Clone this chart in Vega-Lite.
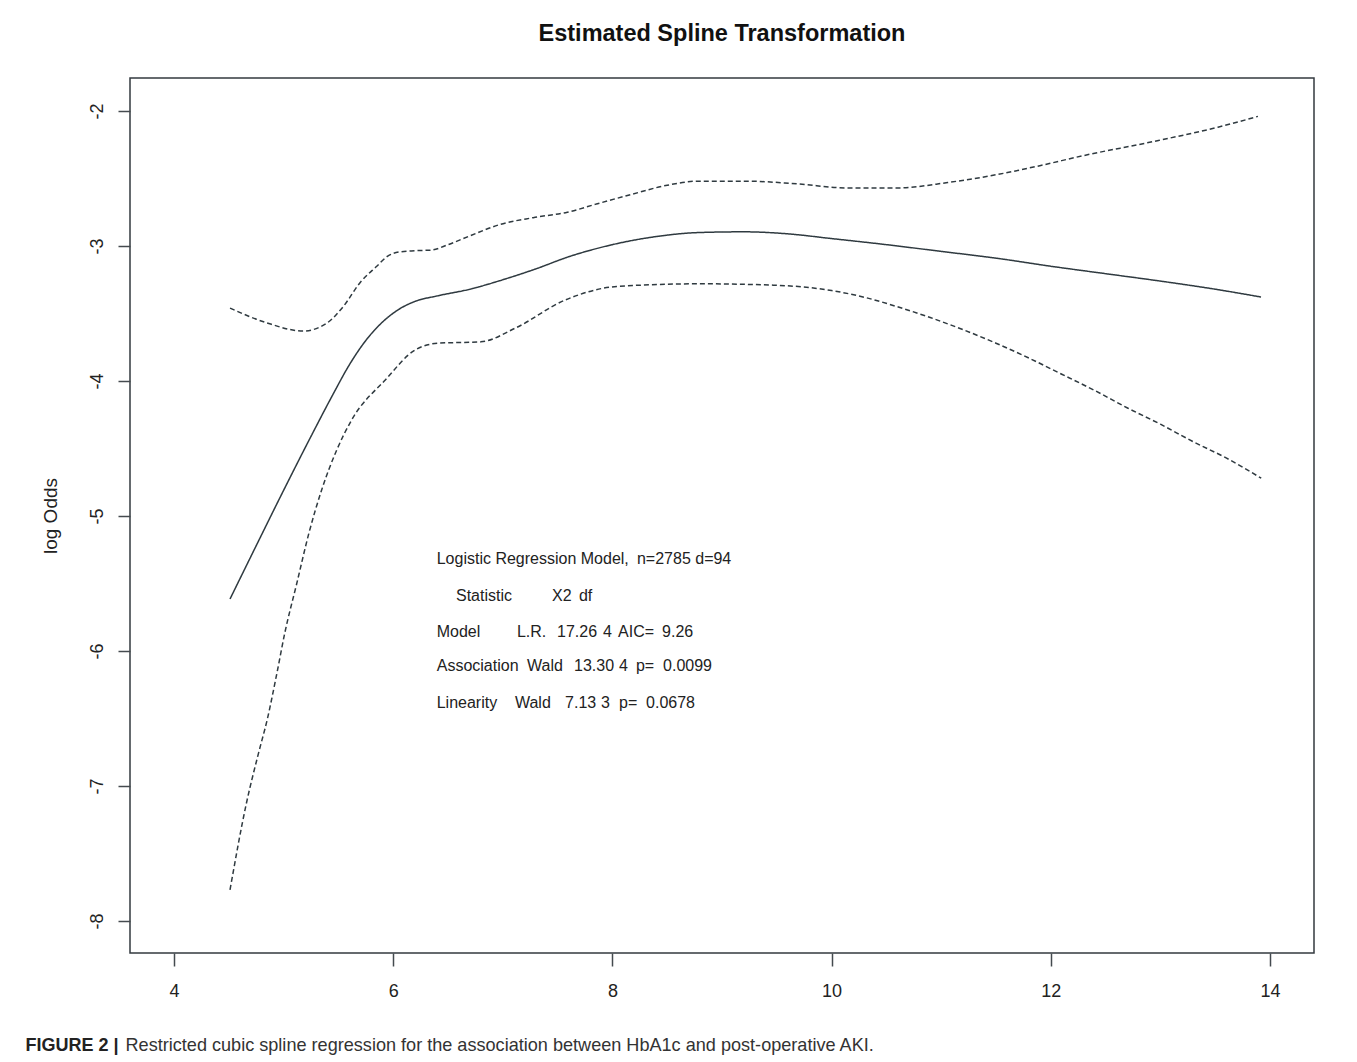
{
  "$schema": "https://vega.github.io/schema/vega-lite/v6.json",
  "width": 1184,
  "height": 875,
  "autosize": {"type": "none"},
  "padding": {"left": 130, "top": 78, "right": 43, "bottom": 109},
  "background": "white",
  "title": {
    "text": "Estimated Spline Transformation",
    "font": "Liberation Sans",
    "fontSize": 23.5,
    "fontWeight": "bold",
    "color": "#111111",
    "anchor": "middle",
    "frame": "group",
    "baseline": "alphabetic",
    "offset": 14
  },
  "config": {
    "font": "Liberation Sans",
    "view": {"stroke": "#333a3f", "strokeWidth": 1.5},
    "axis": {"grid": false, "domain": false}
  },
  "datasets": {
    "curves": [
      {"series": "estimate", "x": 4.511, "y": -5.615},
      {"series": "estimate", "x": 4.75, "y": -5.22},
      {"series": "estimate", "x": 5.0, "y": -4.81},
      {"series": "estimate", "x": 5.25, "y": -4.41},
      {"series": "estimate", "x": 5.45, "y": -4.1},
      {"series": "estimate", "x": 5.6, "y": -3.88},
      {"series": "estimate", "x": 5.75, "y": -3.7},
      {"series": "estimate", "x": 5.9, "y": -3.565},
      {"series": "estimate", "x": 6.05, "y": -3.47},
      {"series": "estimate", "x": 6.2, "y": -3.41},
      {"series": "estimate", "x": 6.4, "y": -3.37},
      {"series": "estimate", "x": 6.7, "y": -3.32},
      {"series": "estimate", "x": 7.0, "y": -3.25},
      {"series": "estimate", "x": 7.3, "y": -3.17},
      {"series": "estimate", "x": 7.6, "y": -3.08},
      {"series": "estimate", "x": 8.0, "y": -2.99},
      {"series": "estimate", "x": 8.4, "y": -2.93},
      {"series": "estimate", "x": 8.8, "y": -2.9},
      {"series": "estimate", "x": 9.2, "y": -2.895},
      {"series": "estimate", "x": 9.6, "y": -2.91},
      {"series": "estimate", "x": 10.0, "y": -2.945},
      {"series": "estimate", "x": 10.5, "y": -2.99},
      {"series": "estimate", "x": 11.0, "y": -3.04},
      {"series": "estimate", "x": 11.5, "y": -3.09},
      {"series": "estimate", "x": 12.0, "y": -3.15},
      {"series": "estimate", "x": 12.5, "y": -3.205},
      {"series": "estimate", "x": 13.0, "y": -3.26},
      {"series": "estimate", "x": 13.5, "y": -3.32},
      {"series": "estimate", "x": 13.918, "y": -3.378},
      {"series": "upper", "x": 4.511, "y": -3.46},
      {"series": "upper", "x": 4.849, "y": -3.57},
      {"series": "upper", "x": 5.178, "y": -3.63},
      {"series": "upper", "x": 5.397, "y": -3.57},
      {"series": "upper", "x": 5.543, "y": -3.45},
      {"series": "upper", "x": 5.699, "y": -3.27},
      {"series": "upper", "x": 5.85, "y": -3.15},
      {"series": "upper", "x": 5.95, "y": -3.075},
      {"series": "upper", "x": 6.05, "y": -3.045},
      {"series": "upper", "x": 6.2, "y": -3.035},
      {"series": "upper", "x": 6.35, "y": -3.03},
      {"series": "upper", "x": 6.5, "y": -2.99},
      {"series": "upper", "x": 6.7, "y": -2.925},
      {"series": "upper", "x": 6.977, "y": -2.84},
      {"series": "upper", "x": 7.278, "y": -2.79},
      {"series": "upper", "x": 7.589, "y": -2.75},
      {"series": "upper", "x": 7.85, "y": -2.69},
      {"series": "upper", "x": 8.164, "y": -2.62},
      {"series": "upper", "x": 8.5, "y": -2.55},
      {"series": "upper", "x": 8.776, "y": -2.52},
      {"series": "upper", "x": 9.233, "y": -2.52},
      {"series": "upper", "x": 9.689, "y": -2.54},
      {"series": "upper", "x": 10.146, "y": -2.57},
      {"series": "upper", "x": 10.602, "y": -2.57},
      {"series": "upper", "x": 11.059, "y": -2.53},
      {"series": "upper", "x": 11.516, "y": -2.47},
      {"series": "upper", "x": 11.9, "y": -2.405},
      {"series": "upper", "x": 12.301, "y": -2.33},
      {"series": "upper", "x": 12.913, "y": -2.23},
      {"series": "upper", "x": 13.525, "y": -2.12},
      {"series": "upper", "x": 13.89, "y": -2.04},
      {"series": "lower", "x": 4.511, "y": -7.77},
      {"series": "lower", "x": 4.66, "y": -7.13},
      {"series": "lower", "x": 4.77, "y": -6.76},
      {"series": "lower", "x": 4.85, "y": -6.51},
      {"series": "lower", "x": 4.94, "y": -6.16},
      {"series": "lower", "x": 5.01, "y": -5.87},
      {"series": "lower", "x": 5.12, "y": -5.5},
      {"series": "lower", "x": 5.23, "y": -5.13},
      {"series": "lower", "x": 5.35, "y": -4.8},
      {"series": "lower", "x": 5.48, "y": -4.52},
      {"series": "lower", "x": 5.62, "y": -4.29},
      {"series": "lower", "x": 5.93, "y": -3.99},
      {"series": "lower", "x": 6.2, "y": -3.77},
      {"series": "lower", "x": 6.41, "y": -3.72},
      {"series": "lower", "x": 6.8, "y": -3.71},
      {"series": "lower", "x": 7.11, "y": -3.61},
      {"series": "lower", "x": 7.57, "y": -3.4},
      {"series": "lower", "x": 8.04, "y": -3.3},
      {"series": "lower", "x": 8.78, "y": -3.28},
      {"series": "lower", "x": 9.47, "y": -3.29},
      {"series": "lower", "x": 10.0, "y": -3.33},
      {"series": "lower", "x": 10.3, "y": -3.38},
      {"series": "lower", "x": 10.6, "y": -3.45},
      {"series": "lower", "x": 10.9, "y": -3.53},
      {"series": "lower", "x": 11.2, "y": -3.62},
      {"series": "lower", "x": 11.5, "y": -3.72},
      {"series": "lower", "x": 11.8, "y": -3.83},
      {"series": "lower", "x": 12.1, "y": -3.95},
      {"series": "lower", "x": 12.4, "y": -4.07},
      {"series": "lower", "x": 12.7, "y": -4.2},
      {"series": "lower", "x": 13.0, "y": -4.32},
      {"series": "lower", "x": 13.3, "y": -4.45},
      {"series": "lower", "x": 13.6, "y": -4.57},
      {"series": "lower", "x": 13.92, "y": -4.72}
    ],
    "notes": [
      {"label": "Logistic Regression Model,", "x": 6.397, "y": -5.3185},
      {"label": "n=2785 d=94", "x": 8.224, "y": -5.3185},
      {"label": "Statistic", "x": 6.573, "y": -5.5926},
      {"label": "X2", "x": 7.449, "y": -5.5926},
      {"label": "df", "x": 7.695, "y": -5.5926},
      {"label": "Model", "x": 6.397, "y": -5.8593},
      {"label": "L.R.", "x": 7.129, "y": -5.8593},
      {"label": "17.26", "x": 7.495, "y": -5.8593},
      {"label": "4", "x": 7.914, "y": -5.8593},
      {"label": "AIC=", "x": 8.052, "y": -5.8593},
      {"label": "9.26", "x": 8.453, "y": -5.8593},
      {"label": "Association", "x": 6.397, "y": -6.1111},
      {"label": "Wald", "x": 7.221, "y": -6.1111},
      {"label": "13.30", "x": 7.65, "y": -6.1111},
      {"label": "4", "x": 8.06, "y": -6.1111},
      {"label": "p=", "x": 8.215, "y": -6.1111},
      {"label": "0.0099", "x": 8.462, "y": -6.1111},
      {"label": "Linearity", "x": 6.397, "y": -6.3852},
      {"label": "Wald", "x": 7.111, "y": -6.3852},
      {"label": "7.13", "x": 7.568, "y": -6.3852},
      {"label": "3", "x": 7.896, "y": -6.3852},
      {"label": "p=", "x": 8.06, "y": -6.3852},
      {"label": "0.0678", "x": 8.307, "y": -6.3852}
    ]
  },
  "layer": [
    {
      "data": {"name": "curves"},
      "mark": {"type": "line", "interpolate": "monotone", "strokeWidth": 1.5, "color": "#2f3a40"},
      "encoding": {
        "x": {
          "field": "x",
          "type": "quantitative",
          "scale": {"domain": [3.5985, 14.4015], "nice": false, "zero": false},
          "axis": {
            "orient": "bottom",
            "values": [4, 6, 8, 10, 12, 14],
            "format": "d",
            "tickSize": 13,
            "tickWidth": 1.5,
            "tickColor": "#444a4f",
            "labelFontSize": 18,
            "labelColor": "#222222",
            "labelPadding": 16,
            "labelBaseline": "top",
            "title": "FIGURE 2 |",
            "titleFontSize": 18,
            "titleFontWeight": "bold",
            "titleColor": "#222222",
            "titleAngle": 0,
            "titleAlign": "left",
            "titleBaseline": "middle",
            "titleX": -105,
            "titleY": 92
          }
        },
        "y": {
          "field": "y",
          "type": "quantitative",
          "scale": {"domain": [-8.237, -1.7556], "nice": false, "zero": false},
          "axis": {
            "values": [-8, -7, -6, -5, -4, -3, -2],
            "labelExpr": "datum.value < 0 ? '-' + abs(datum.value) : '' + datum.value",
            "tickSize": 12,
            "tickWidth": 1.5,
            "tickColor": "#444a4f",
            "labelFontSize": 18,
            "labelColor": "#222222",
            "labelAngle": -90,
            "labelAlign": "center",
            "labelBaseline": "middle",
            "labelPadding": 21,
            "title": "log Odds",
            "titleFontSize": 19,
            "titleFontWeight": "normal",
            "titleColor": "#222222",
            "titleAngle": -90,
            "titleAlign": "center",
            "titleBaseline": "middle",
            "titleX": -80,
            "titleY": 437.5
          }
        },
        "strokeDash": {
          "field": "series",
          "type": "nominal",
          "scale": {"domain": ["estimate", "upper", "lower"], "range": [[1, 0], [5, 3], [5, 3]]},
          "legend": null
        }
      }
    },
    {
      "data": {"name": "notes"},
      "mark": {"type": "text", "align": "left", "baseline": "middle", "fontSize": 16, "color": "#222222"},
      "encoding": {
        "x": {
          "field": "x",
          "type": "quantitative",
          "scale": {"domain": [3.5985, 14.4015], "nice": false, "zero": false},
          "axis": {
            "orient": "bottom",
            "labels": false,
            "ticks": false,
            "title": "Restricted cubic spline regression for the association between HbA1c and post-operative AKI.",
            "titleFontSize": 18.1,
            "titleFontWeight": "normal",
            "titleColor": "#333333",
            "titleAngle": 0,
            "titleAlign": "left",
            "titleBaseline": "middle",
            "titleX": -5,
            "titleY": 92
          }
        },
        "y": {"field": "y", "type": "quantitative"},
        "text": {"field": "label", "type": "nominal"}
      }
    }
  ],
  "resolve": {"axis": {"x": "independent"}}
}
